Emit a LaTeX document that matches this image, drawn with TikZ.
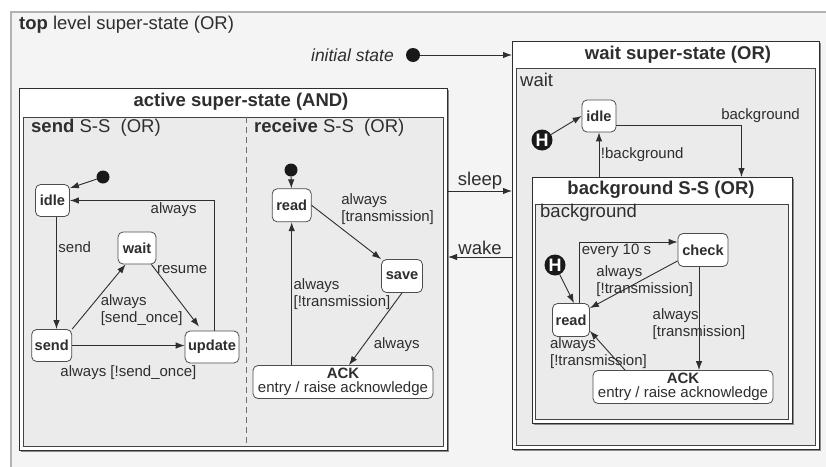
\documentclass[tikz,border=0pt]{standalone}
\usepackage{fontspec}
\setmainfont{Liberation Sans}
\usetikzlibrary{arrows.meta,shadows,positioning}

\definecolor{topfill}{HTML}{F4F4F4}
\definecolor{regfill}{HTML}{EBEBEB}
\definecolor{ink}{HTML}{2E2E2E}
\newcommand{\titlefont}{\fontsize{18.5}{21}\selectfont}
\newcommand{\lblfont}{\fontsize{15}{17}\selectfont}
\newcommand{\statefont}{\fontsize{14.6}{17}\selectfont}

\begin{document}
\begin{tikzpicture}[x=1pt, y=-1pt, every node/.style={text=ink},
  superbox/.style={draw=ink, fill=white, line width=1pt, inner sep=0, anchor=north west,
    drop shadow={shadow xshift=1.5pt, shadow yshift=-1.5pt, fill=black!45, opacity=1}},
  region/.style={draw=ink!90, fill=regfill, line width=0.8pt, inner sep=0, anchor=north west},
  boxtitle/.style={font=\titlefont\bfseries},
  regtitle/.style={font=\titlefont, anchor=west, inner sep=0},
  state/.style={draw=ink!85, fill=white, rounded corners=5pt, font=\statefont\bfseries,
    line width=0.8pt, minimum height=32, inner xsep=3pt},
  ackstate/.style={state, align=center, minimum width=180, minimum height=33,
    font=\fontsize{15}{14.5}\selectfont, inner ysep=1pt},
  initdot/.style={circle, fill=black!90, minimum size=14, inner sep=0},
  history/.style={circle, fill=black!90, minimum size=21, inner sep=0, text=white,
    font=\fontsize{18}{18}\selectfont\bfseries},
  trans/.style={draw=ink, line width=0.9pt, -{Latex[length=9pt, width=6.5pt]}},
  lbl/.style={font=\lblfont, inner sep=1.5pt, align=left}]

\useasboundingbox (0,0) rectangle (826,466);
\fill[white] (0,0) rectangle (826,466);

% Draw top level super-state
\draw[draw=black!30, fill=topfill, line width=2pt] (11,12) rectangle (850,490);
\node[regtitle] (toptitle) at (19,25) {\textbf{top} level super-state (OR)};
\node[font=\fontsize{17.5}{20}\selectfont\itshape, anchor=east, inner sep=0] (initlabel) at (394,55) {initial state};
\node[initdot] (topinit) at (413,55) {};

% Draw active super-state
\node[superbox, minimum width=428, minimum height=362] (active) at (19,88) {};
\node[region, minimum width=420, minimum height=329] (actreg) at (23,117) {};
\draw[ink!70, dash pattern=on 6pt off 4pt] (actreg.north -| 246,0) -- (actreg.south -| 246,0);
\node[boxtitle] (activetitle) at (241,102) {active super-state (AND)};
\node[regtitle] (sendtitle) at (31,128) {\textbf{send} S-S\ \ (OR)};
\node[regtitle] (recvtitle) at (254,128) {\textbf{receive} S-S\ \ (OR)};

% Draw wait super-state
\node[superbox, minimum width=307, minimum height=408] (waitbox) at (512,41) {};
\node[region, minimum width=299, minimum height=377] (waitreg) at (516,68) {};
\node[boxtitle] (waittitle) at (678,55) {wait super-state (OR)};
\node[regtitle] (waitlabel) at (520,80) {wait};

% Draw background S-S
\node[superbox, minimum width=260, minimum height=246] (bgbox) at (532,177) {};
\node[region, minimum width=253, minimum height=215] (bgreg) at (535,204) {};
\node[boxtitle] (bgtitle) at (661,190) {background S-S (OR)};
\node[regtitle] (bglabel) at (540,213) {background};

% Draw send states
\node[initdot, minimum size=13] (sinit) at (103,177) {};
\node[state, minimum width=34] (sidle) at (52.5,200.5) {idle};
\node[state, minimum width=38] (swait) at (137,248) {wait};
\node[state, minimum width=39] (ssend) at (51.7,345.5) {send};
\node[state, minimum width=53] (supdate) at (212,347) {update};

% Draw receive states
\node[initdot, minimum size=13] (rinit) at (291,170) {};
\node[state, minimum width=39, minimum height=33] (rread) at (291.7,205.3) {read};
\node[state, minimum width=41, minimum height=33] (rsave) at (402,276) {save};
\node[ackstate] (rack) at (343,382) {\textbf{ACK}\\entry / raise acknowledge};

% Draw wait and background states
\node[state, minimum width=34] (widle) at (599,116) {idle};
\node[history] (whist) at (542,140) {H};
\node[state, minimum width=50, minimum height=33] (bgcheck) at (703,250) {check};
\node[state, minimum width=37, minimum height=33] (bgread) at (571,320) {read};
\node[ackstate] (bgack) at (683,387) {\textbf{ACK}\\entry / raise acknowledge};
\node[history] (bghist) at (555,265) {H};

% Transitions in send
\draw[trans] (sinit) -- ([yshift=-4pt]sidle.north east);
\draw[trans] ([xshift=4pt]sidle.south) -- node[lbl, pos=0.27, right] {send} ([xshift=4pt]sidle.south |- ssend.north);
\draw[trans] (ssend.north east) -- node[lbl, pos=0.5, anchor=north west, yshift=4pt] {always\\{}[send\_once]} ([xshift=8pt]swait.south west);
\draw[trans] ([xshift=-5pt]swait.south east) -- node[lbl, pos=0.08, right] {resume} ([xshift=-13pt,yshift=4pt]supdate.north);
\draw[trans] (ssend) -- node[lbl, midway, below=18pt] {always [!send\_once]} (ssend -| supdate.west);
\draw[trans] ([xshift=2pt]supdate.north) |- node[lbl, pos=0.64, below] {always} (sidle.east);

% Transitions in receive
\draw[trans] (rinit) -- (rread);
\draw[trans] (rread.east) -- node[lbl, pos=0.4, anchor=south west] {always\\{}[transmission]} (rsave.north west);
\draw[trans] (rsave.south) -- node[lbl, pos=0.72, right, xshift=8pt] {always} ([xshift=6pt]rack.north);
\draw[trans] (rread.south |- rack.north) -- node[lbl, midway, right] {always\\{}[!transmission]} (rread.south);

% Transitions between super-states
\draw[trans] (topinit) -- (topinit -| waitbox.west);
\draw[trans] (active.east |- 0,191) -- node[lbl, font=\titlefont, midway, above] {sleep} (waitbox.west |- 0,191);
\draw[trans] (waitbox.west |- 0,257) -- node[lbl, font=\titlefont, midway, above] {wake} (active.east |- 0,257);

% Transitions in wait
\draw[trans] (whist) -- (widle.west);
\draw[trans] ([yshift=-9pt]widle.east) -| node[lbl, pos=0.5, above, xshift=19pt] {background} ([xshift=79pt]bgbox.north);
\draw[trans] (widle.south |- bgbox.north) -- node[lbl, midway, right] {!background} (widle.south);

% Transitions in background
\draw[trans] (bghist) -- ([xshift=3pt]bgread.north);
\draw[trans] ([xshift=8pt]bgread.north) |- node[lbl, pos=0.69, below] {every 10 s} ([yshift=8pt]bgcheck.west);
\draw[trans] ([yshift=6pt]bgcheck.south west) -- node[lbl, midway, xshift=11pt, yshift=3pt] {always\\{}[!transmission]} ([yshift=-5pt]bgread.north east);
\draw[trans] ([xshift=-4pt]bgcheck.south) -- node[lbl, midway, yshift=-6pt] {always\\{}[transmission]} ([xshift=-4pt]bgcheck.south |- bgack.north);
\draw[trans] ([xshift=-58pt]bgack.north) -- node[lbl, midway, xshift=-9pt, yshift=-3pt] {always\\{}[!transmission]} ([yshift=6pt]bgread.south east);

\end{tikzpicture}
\end{document}
